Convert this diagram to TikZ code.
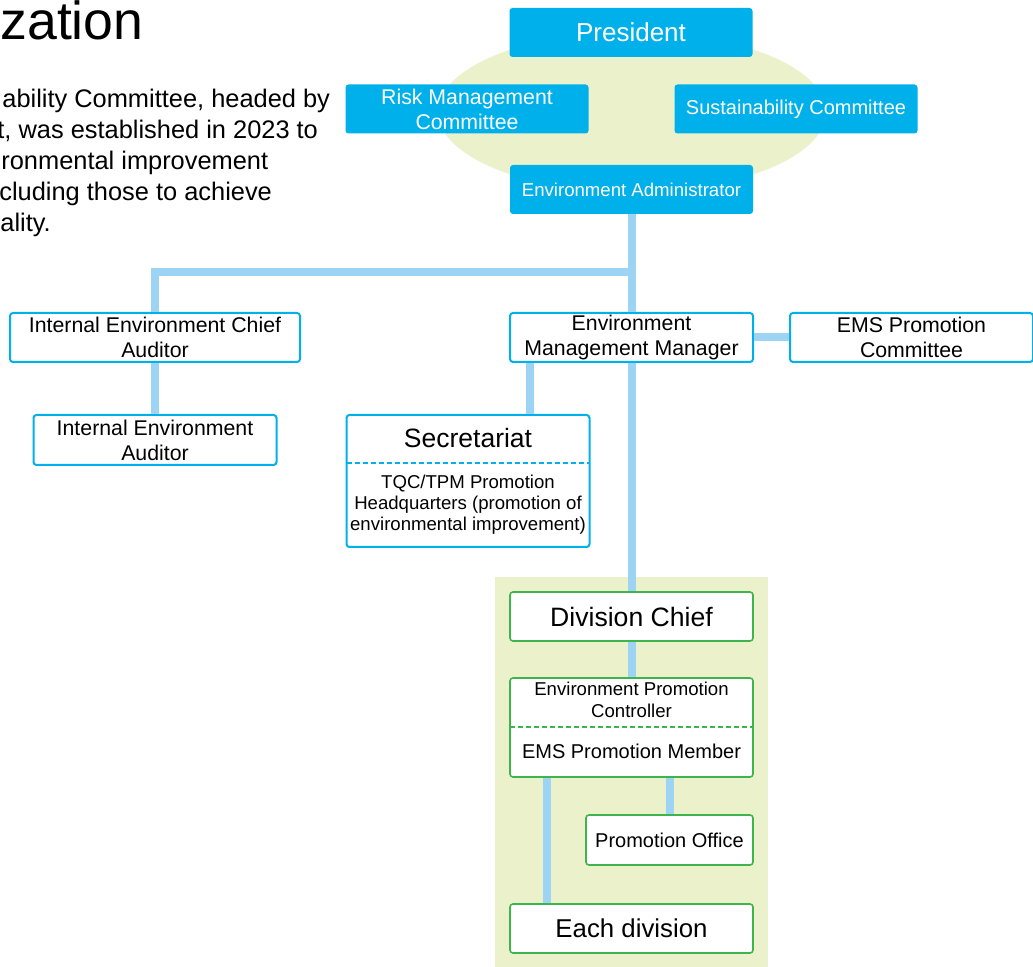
\documentclass[tikz,border=0pt]{standalone}
\usepackage{fontspec}
\setmainfont{Liberation Sans}
\usetikzlibrary{shapes,positioning,backgrounds}
\definecolor{orgblue}{HTML}{00B0EA}
\definecolor{linkblue}{HTML}{9DD4F4}
\definecolor{palegreen}{HTML}{EBF2CB}
\definecolor{divgreen}{HTML}{3DB54A}

\begin{document}
\begin{tikzpicture}[x=0.5pt, y=-0.5pt,
    topbox/.style={rectangle, rounded corners=1.5pt, fill=orgblue, text=white, align=center,
                   inner sep=0pt, minimum width=121.5pt, minimum height=24.5pt,
                   font=\fontsize{10.65}{12.5}\selectfont},
    unitbox/.style={rectangle, draw=orgblue, line width=1pt, rounded corners=1.5pt, fill=white,
                    align=center, inner sep=0pt, minimum width=121.5pt, minimum height=24.5pt,
                    font=\fontsize{10.65}{12.5}\selectfont},
    divbox/.style={unitbox, draw=divgreen, line width=0.8pt},
    link/.style={draw=linkblue, line width=4pt},
    para/.style={anchor=base west, inner sep=0pt, font=\fontsize{12.7}{15.5}\selectfont}
]
    \useasboundingbox (0,0) rectangle (1033,967);

    % Heading and text (cut at the left)
    \node[anchor=base west, inner sep=0pt, font=\fontsize{26.8}{30}\selectfont] (title) at (0,40) {zation};
    \node[para] (p1) at (2,108) {ability Committee, headed by};
    \node[para] (p2) at (-3,139) {t, was established in 2023 to};
    \node[para] (p3) at (1,170) {ronmental improvement};
    \node[para] (p4) at (-1,201) {cluding those to achieve};
    \node[para] (p5) at (0,232) {ality.};

    % Backgrounds
    \fill[palegreen] (632,112) ellipse [x radius=97pt, y radius=40pt];
    \fill[palegreen] (495,577) rectangle (768,967);

    % Top management
    \node[topbox, font=\fontsize{13}{15}\selectfont] (pres) at (631,32.5) {President};
    \node[topbox] (risk) at (467,109) {Risk Management\\Committee};
    \node[topbox, font=\fontsize{10}{12}\selectfont] (sust) at (796,109) {Sustainability Committee};
    \node[topbox, font=\fontsize{9.3}{11}\selectfont] (ea) at (631.5,189.5) {Environment Administrator};

    % Second level
    \node[unitbox, minimum width=145pt] (ieca) at (155,337.5) {Internal Environment Chief\\Auditor};
    \node[unitbox, minimum height=25pt] (iea) at (155,440) {Internal Environment\\Auditor};
    \node[unitbox] (emm) at (631.5,337.5) {Environment\\Management Manager};
    \node[unitbox] (emspc) at (911.5,337.5) {EMS Promotion\\Committee};

    % Secretariat
    \node[unitbox, minimum height=66pt] (sec) at (468,481) {};
    \coordinate (secsplit) at (468,463);
    \node[font=\fontsize{13.25}{15}\selectfont] (sectitle) at (468,438) {Secretariat};
    \draw[orgblue, line width=0.8pt, dash pattern=on 2.5pt off 1.5pt]
        ([xshift=0.5pt]sec.west |- secsplit) -- ([xshift=-0.5pt]sec.east |- secsplit);
    \node[font=\fontsize{9.3}{10.5}\selectfont, align=center] (tqc) at (468,505)
        {TQC/TPM Promotion\\Headquarters (promotion of\\environmental improvement)};

    % Divisions
    \node[divbox, font=\fontsize{13.3}{15}\selectfont] (dc) at (631.5,616.5) {Division Chief};
    \node[divbox, minimum height=49.5pt] (epc) at (631.5,727.5) {};
    \coordinate (epcsplit) at (631.5,727);
    \node[font=\fontsize{9.3}{11}\selectfont, align=center] (epctext) at (631.5,700)
        {Environment Promotion\\Controller};
    \draw[divgreen, line width=0.8pt, dash pattern=on 2.5pt off 1.5pt]
        ([xshift=0.4pt]epc.west |- epcsplit) -- ([xshift=-0.4pt]epc.east |- epcsplit);
    \node[font=\fontsize{10}{12}\selectfont] (emsmem) at (631.5,751) {EMS Promotion Member};
    \node[divbox, minimum width=83.5pt, minimum height=25pt, font=\fontsize{10}{12}\selectfont]
        (po) at (669.5,840) {Promotion Office};
    \node[divbox, font=\fontsize{12.9}{15}\selectfont] (ed) at (631.5,928.5) {Each division};

    % Connectors
    \coordinate (branch) at (631.5,272);
    \coordinate (secjoin) at (530,415);
    \draw[link] (ea.south) -- (emm.north);
    \draw[link] (ieca.north) |- (branch);
    \draw[link] (ieca) -- (iea);
    \draw[link] (emm) -- (emspc);
    \draw[link] (secjoin |- emm.south) -- (secjoin |- sec.north);
    \draw[link] (emm.south) -- (dc.north);
    \draw[link] (dc) -- (epc);
    \draw[link] ([xshift=19pt]epc.south west) -- ([xshift=19pt]ed.north west);
    \draw[link] (po.north) -- (po.north |- epc.south);
\end{tikzpicture}
\end{document}
